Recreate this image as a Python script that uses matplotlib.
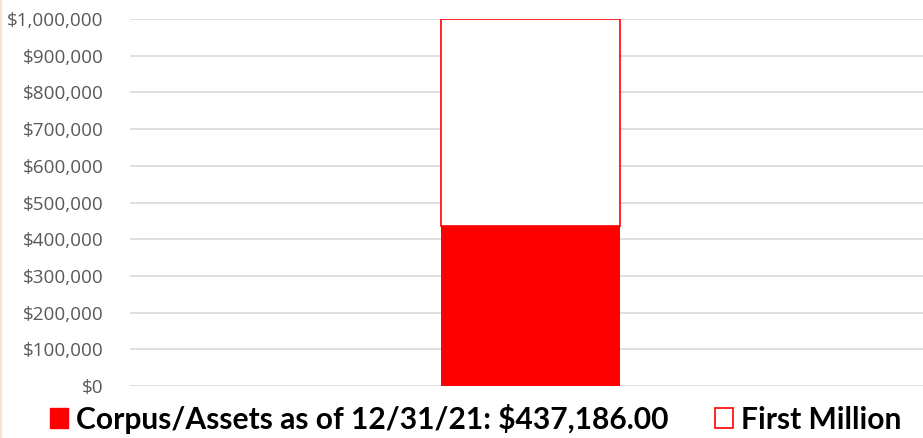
import matplotlib.pyplot as plt
from matplotlib.ticker import FuncFormatter, MultipleLocator
from matplotlib.patches import Patch

categorias = ['']
activos = [437186.00]
primer_millon = [1000000]
etiqueta_activos = 'Corpus/Assets as of 12/31/21: $437,186.00'
etiqueta_millon = 'First Million'

fig = plt.figure(figsize=(9.23, 4.38), dpi=100)
ax = fig.add_axes([0.141, 0.1187, 0.859, 0.8379])

x = range(len(categorias))
resto = [m - a for m, a in zip(primer_millon, activos)]
ax.bar(x, activos, width=0.226, color='#ff0000', zorder=3)
ax.bar(x, resto, bottom=activos, width=0.226, facecolor='white',
       edgecolor='#ff0000', linewidth=1.2, zorder=3)

ax.set_xlim(-0.505, 0.495)
ax.set_ylim(0, 1000000)
ax.yaxis.set_major_locator(MultipleLocator(100000))
ax.yaxis.set_major_formatter(FuncFormatter(lambda v, p: '${:,.0f}'.format(v)))
ax.set_xticks([])
ax.grid(axis='y', color='#d9d9d9', linewidth=1.2, zorder=0)
for s in ax.spines.values():
    s.set_visible(False)
ax.tick_params(axis='y', length=0, pad=19, labelsize=13.6, labelcolor='#595959')
for t in ax.get_yticklabels():
    t.set_fontfamily('Open Sans')

handles = [Patch(facecolor='#ff0000', edgecolor='#ff0000'),
           Patch(facecolor='white', edgecolor='#ff0000', linewidth=1.2)]
fig.legend(handles, [etiqueta_activos, etiqueta_millon], loc='lower center',
           bbox_to_anchor=(0.515, -0.052), ncol=2, frameon=False,
           prop={'family': 'Lato', 'weight': 'bold', 'size': 21.6},
           handlelength=0.62, handleheight=0.62, handletextpad=0.25,
           columnspacing=1.55)

# linea beige del borde izquierdo
fig.add_artist(plt.Line2D([0.001, 0.001], [0, 1], color='#f2e6cc', lw=1.5,
                          transform=fig.transFigure))

fig.savefig('out.png', dpi=100)
